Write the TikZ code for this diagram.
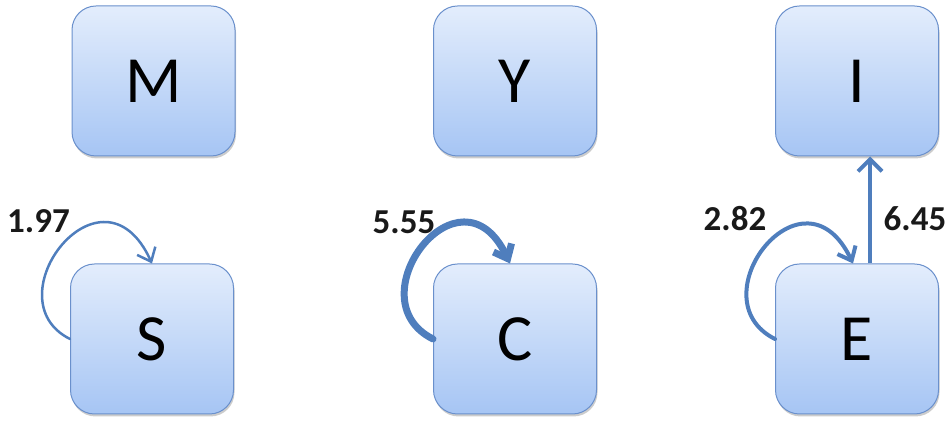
\documentclass[tikz,border=0pt]{standalone}
\usepackage{fontspec}
\setmainfont{Carlito}
\usetikzlibrary{arrows.meta,shadows}
\definecolor{boxtop}{HTML}{E3EDFC}
\definecolor{boxbot}{HTML}{A6C5F4}
\definecolor{boxline}{HTML}{6A90CC}
\definecolor{arrowc}{HTML}{4F7EBD}
\tikzset{
  state/.style={rectangle, rounded corners=24pt, minimum width=163pt, minimum height=150pt,
    inner sep=0pt, draw=boxline, line width=1pt, top color=boxtop, bottom color=boxbot,
    font=\fontsize{66}{68}\selectfont,
    drop shadow={opacity=0.4, shadow xshift=1pt, shadow yshift=-2.5pt}},
  rate/.style={font=\bfseries\fontsize{35}{37}\selectfont, text=black!90, inner sep=0pt},
  selfloop/.style={draw=arrowc, line cap=round,
    -{Straight Barb[length=12pt, width=20pt, line width=#1]}, line width=#1},
  link/.style={draw=arrowc, -{Straight Barb[length=12pt, width=24pt]}, line width=4pt}
}
\begin{document}
\begin{tikzpicture}[x=1pt,y=1pt]
\useasboundingbox (0,0) rectangle (949,422);
\node[state] (M) at (153.5,341) {M};
\node[state] (Y) at (515,341) {Y};
\node[state] (I) at (857,341) {I};
\node[state] (S) at (152,83) {S};
\node[state] (C) at (515,83) {C};
\node[state] (E) at (857,83) {E};
\coordinate (Sin) at ([xshift=0pt]S.north);
\coordinate (Cin) at ([xshift=-5pt]C.north);
\coordinate (Ein) at ([xshift=-4pt]E.north);
\draw[selfloop=2.5pt] (S.west) .. controls +(-80,40) and +(-50,110) .. (Sin);
\draw[selfloop=7pt] (C.west) .. controls +(-80,40) and +(-50,105) .. (Cin);
\draw[selfloop=4pt] (E.west) .. controls +(-80,40) and +(-50,105) .. (Ein);
\draw[link] ([xshift=13pt]E.north) -- ([xshift=13pt]I.south);
\node[rate] (l1) at (38.5,201) {1.97};
\node[rate] (l2) at (404,199.5) {5.55};
\node[rate] (l3) at (735,203.5) {2.82};
\node[rate] (l4) at (915,203.5) {6.45};
\end{tikzpicture}
\end{document}
